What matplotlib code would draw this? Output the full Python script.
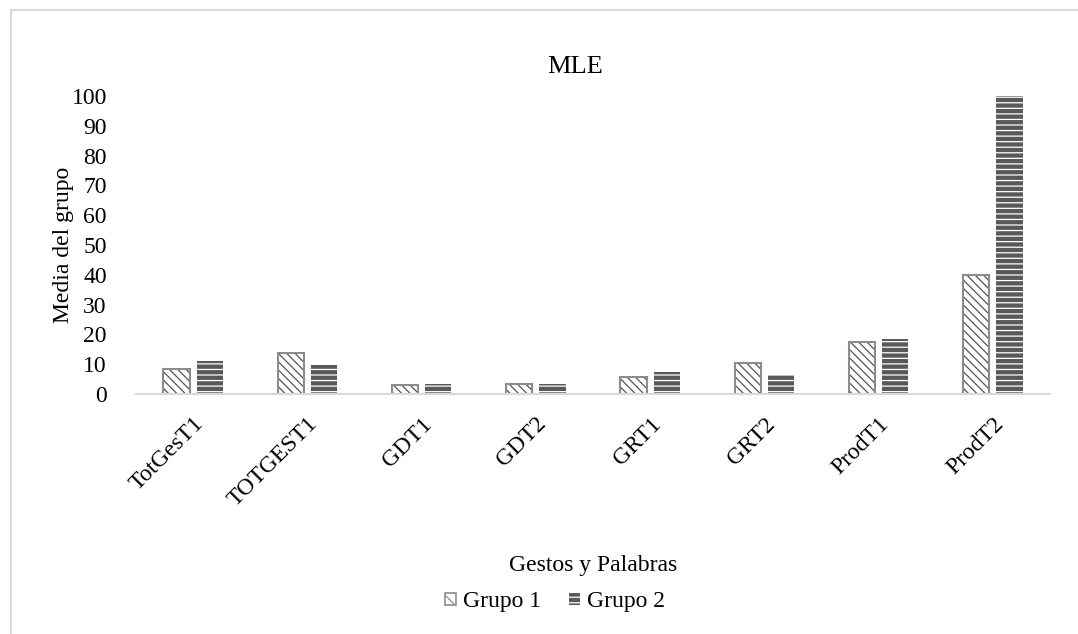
import matplotlib
matplotlib.use("Agg")
import matplotlib.pyplot as plt
import numpy as np
from matplotlib.lines import Line2D
from matplotlib.patches import Patch

categories = ["TotGesT1", "TOTGEST1", "GDT1", "GDT2", "GRT1", "GRT2", "ProdT1", "ProdT2"]
grupo1 = [8.5, 13.7, 3.0, 3.5, 5.6, 10.3, 17.3, 40.0]
grupo2 = [11.0, 9.8, 3.2, 3.2, 7.3, 6.3, 18.5, 100.0]
series_names = ["Grupo 1", "Grupo 2"]
yticks = list(range(0, 101, 10))

plt.rcParams['font.family'] = ['Liberation Serif', 'DejaVu Serif']
plt.rcParams['hatch.linewidth'] = 0.9

fig = plt.figure(figsize=(10.78, 6.34), dpi=100)
ax = fig.add_axes([136/1078, 1-394/634, (1050-136)/1078, (394-96)/634])

x = np.arange(len(categories))
w = 0.23
off = 0.145
fs = 17

# Grupo 1: white fill, dark fine diagonal hatch, grey outline
ax.bar(x - off, grupo1, w, facecolor='white', edgecolor='#555555', hatch='\\\\\\\\', linewidth=0)
ax.bar(x - off, grupo1, w, facecolor='none', edgecolor='#8c8c8c', linewidth=1.5)
# Grupo 2: dark grey with white brick-like hatch
ax.bar(x + off, grupo2, w, facecolor='#595959', edgecolor='white', hatch='---', linewidth=0)

ax.set_xlim(-0.5, len(categories) - 0.5)
ax.set_ylim(0, 100)
ax.set_yticks(yticks)
ax.set_yticklabels([str(t) for t in yticks], fontsize=fs)
ax.set_xticks(x)
ax.set_xticklabels(categories, rotation=45, ha='right', rotation_mode='anchor', fontsize=fs)
ax.tick_params(axis='both', length=0)
ax.tick_params(axis='y', pad=21)
ax.tick_params(axis='x', pad=14)
for s in ['top', 'right', 'left']:
    ax.spines[s].set_visible(False)
ax.spines['bottom'].set_color('#d9d9d9')
ax.spines['bottom'].set_linewidth(1.5)

fig.text(575/1078, 1-67/634, "MLE", ha='center', va='center', fontsize=19)
fig.text(593/1078, 1-566/634, "Gestos y Palabras", ha='center', va='center', fontsize=fs)
fig.text(63/1078, 1-245/634, "Media del grupo", ha='center', va='center', rotation=90, fontsize=fs)

handles = [
    Patch(facecolor='white', edgecolor='#8c8c8c', hatch='\\\\', linewidth=1.2),
    Patch(facecolor='#595959', edgecolor='white', hatch='---', linewidth=0),
]
fig.legend(handles, series_names, loc='center', bbox_to_anchor=(555/1078, 1-602/634), ncol=2,
           frameon=False, fontsize=fs, handlelength=0.45, handleheight=0.45,
           handletextpad=0.3, columnspacing=1.2)

# outer chart frame (top and left visible)
fig.add_artist(Line2D([11/1078, 11/1078], [0, 1-10/634], transform=fig.transFigure, color='#d9d9d9', linewidth=1.5))
fig.add_artist(Line2D([11/1078, 1], [1-10/634, 1-10/634], transform=fig.transFigure, color='#d9d9d9', linewidth=1.5))

fig.savefig("out.png", dpi=100, facecolor='white')
